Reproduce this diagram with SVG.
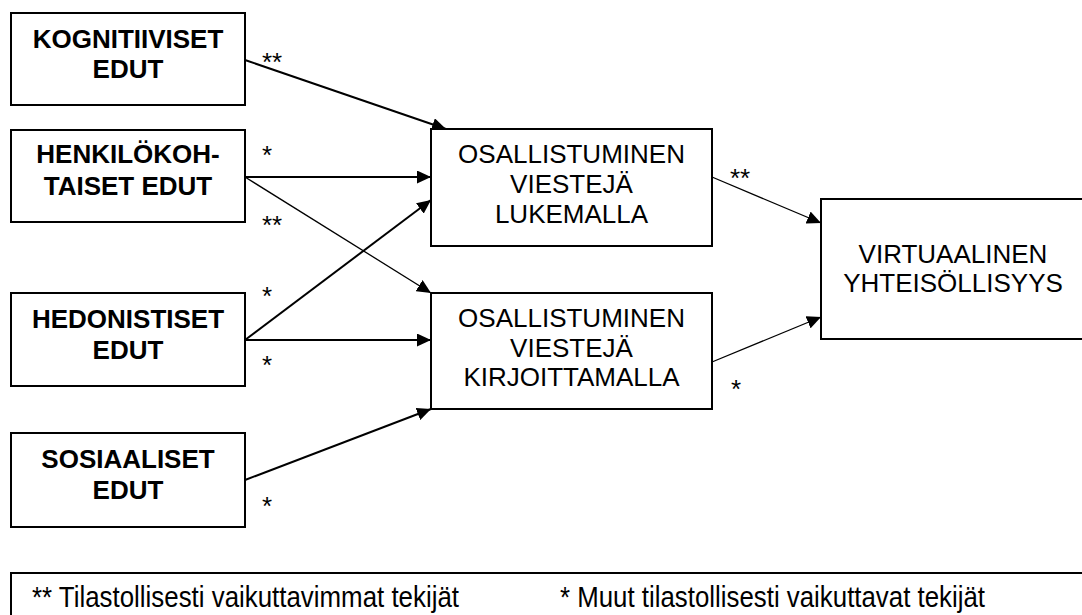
<svg xmlns="http://www.w3.org/2000/svg" width="1082" height="615" viewBox="0 0 1082 615">
<style>
.box{fill:#fff;stroke:#000;stroke-width:2}
.b{font-family:"Liberation Sans",Arial,sans-serif;font-weight:bold;font-size:26px;text-anchor:middle;fill:#000}
.r{font-family:"Liberation Sans",Arial,sans-serif;font-size:26px;text-anchor:middle;fill:#000}
.s{font-family:"Liberation Sans",Arial,sans-serif;font-size:26px;fill:#000}
.lg{font-family:"Liberation Sans",Arial,sans-serif;font-size:29px;fill:#000}
.c{fill:none;stroke:#000;marker-end:url(#ah)}
.t{stroke-width:2}
.n{stroke-width:1.3}
</style>
<defs>
<marker id="ah" markerUnits="userSpaceOnUse" markerWidth="15" markerHeight="13" refX="14" refY="6.5" orient="auto">
<path d="M0,0 L14,6.5 L0,13 z" fill="#000"/>
</marker>
</defs>
<rect width="1082" height="615" fill="#fff"/>
<g id="connectors">
<line class="c t" x1="245" y1="60" x2="446" y2="129"/>
<line class="c t" x1="245" y1="177" x2="431" y2="177"/>
<line class="c n" x1="245" y1="177" x2="431" y2="293"/>
<line class="c t" x1="245" y1="340" x2="431" y2="200"/>
<line class="c t" x1="245" y1="340" x2="431" y2="340"/>
<line class="c t" x1="245" y1="480" x2="431" y2="409"/>
<line class="c n" x1="712" y1="177" x2="821" y2="223"/>
<line class="c n" x1="712" y1="362" x2="821" y2="317"/>
<text class="s" x="262" y="71">**</text>
<text class="s" x="262" y="164">*</text>
<text class="s" x="262" y="234">**</text>
<text class="s" x="262" y="305">*</text>
<text class="s" x="262" y="374">*</text>
<text class="s" x="262" y="515">*</text>
<text class="s" x="730" y="187">**</text>
<text class="s" x="731" y="398">*</text>
</g>
<g id="kognitiiviset">
<rect class="box" x="11" y="13" width="234" height="92"/>
<text class="b" x="128" y="48">KOGNITIIVISET</text>
<text class="b" x="128" y="78">EDUT</text>
</g>
<g id="henkilokohtaiset">
<rect class="box" x="11" y="130" width="234" height="92"/>
<text class="b" x="128" y="163">HENKILÖKOH-</text>
<text class="b" x="128" y="195">TAISET EDUT</text>
</g>
<g id="hedonistiset">
<rect class="box" x="11" y="293" width="234" height="93"/>
<text class="b" x="128" y="328">HEDONISTISET</text>
<text class="b" x="128" y="359">EDUT</text>
</g>
<g id="sosiaaliset">
<rect class="box" x="11" y="433" width="234" height="94"/>
<text class="b" x="128" y="468">SOSIAALISET</text>
<text class="b" x="128" y="499">EDUT</text>
</g>
<g id="lukemalla">
<rect class="box" x="431" y="129" width="281" height="117"/>
<text class="r" x="571.5" y="163">OSALLISTUMINEN</text>
<text class="r" x="571.5" y="193">VIESTEJÄ</text>
<text class="r" x="571.5" y="223">LUKEMALLA</text>
</g>
<g id="kirjoittamalla">
<rect class="box" x="431" y="293" width="281" height="116"/>
<text class="r" x="571.5" y="327">OSALLISTUMINEN</text>
<text class="r" x="571.5" y="357">VIESTEJÄ</text>
<text class="r" x="571.5" y="386">KIRJOITTAMALLA</text>
</g>
<g id="virtuaalinen">
<rect class="box" x="821" y="199" width="270" height="140"/>
<text class="r" x="953" y="263">VIRTUAALINEN</text>
<text class="r" x="953" y="292">YHTEISÖLLISYYS</text>
</g>
<g id="legend">
<rect class="box" x="11" y="573" width="1085" height="60"/>
<text class="lg" x="32" y="607" textLength="427" lengthAdjust="spacingAndGlyphs">** Tilastollisesti vaikuttavimmat tekijät</text>
<text class="lg" x="560" y="607" textLength="425" lengthAdjust="spacingAndGlyphs">* Muut tilastollisesti vaikuttavat tekijät</text>
</g>
</svg>
